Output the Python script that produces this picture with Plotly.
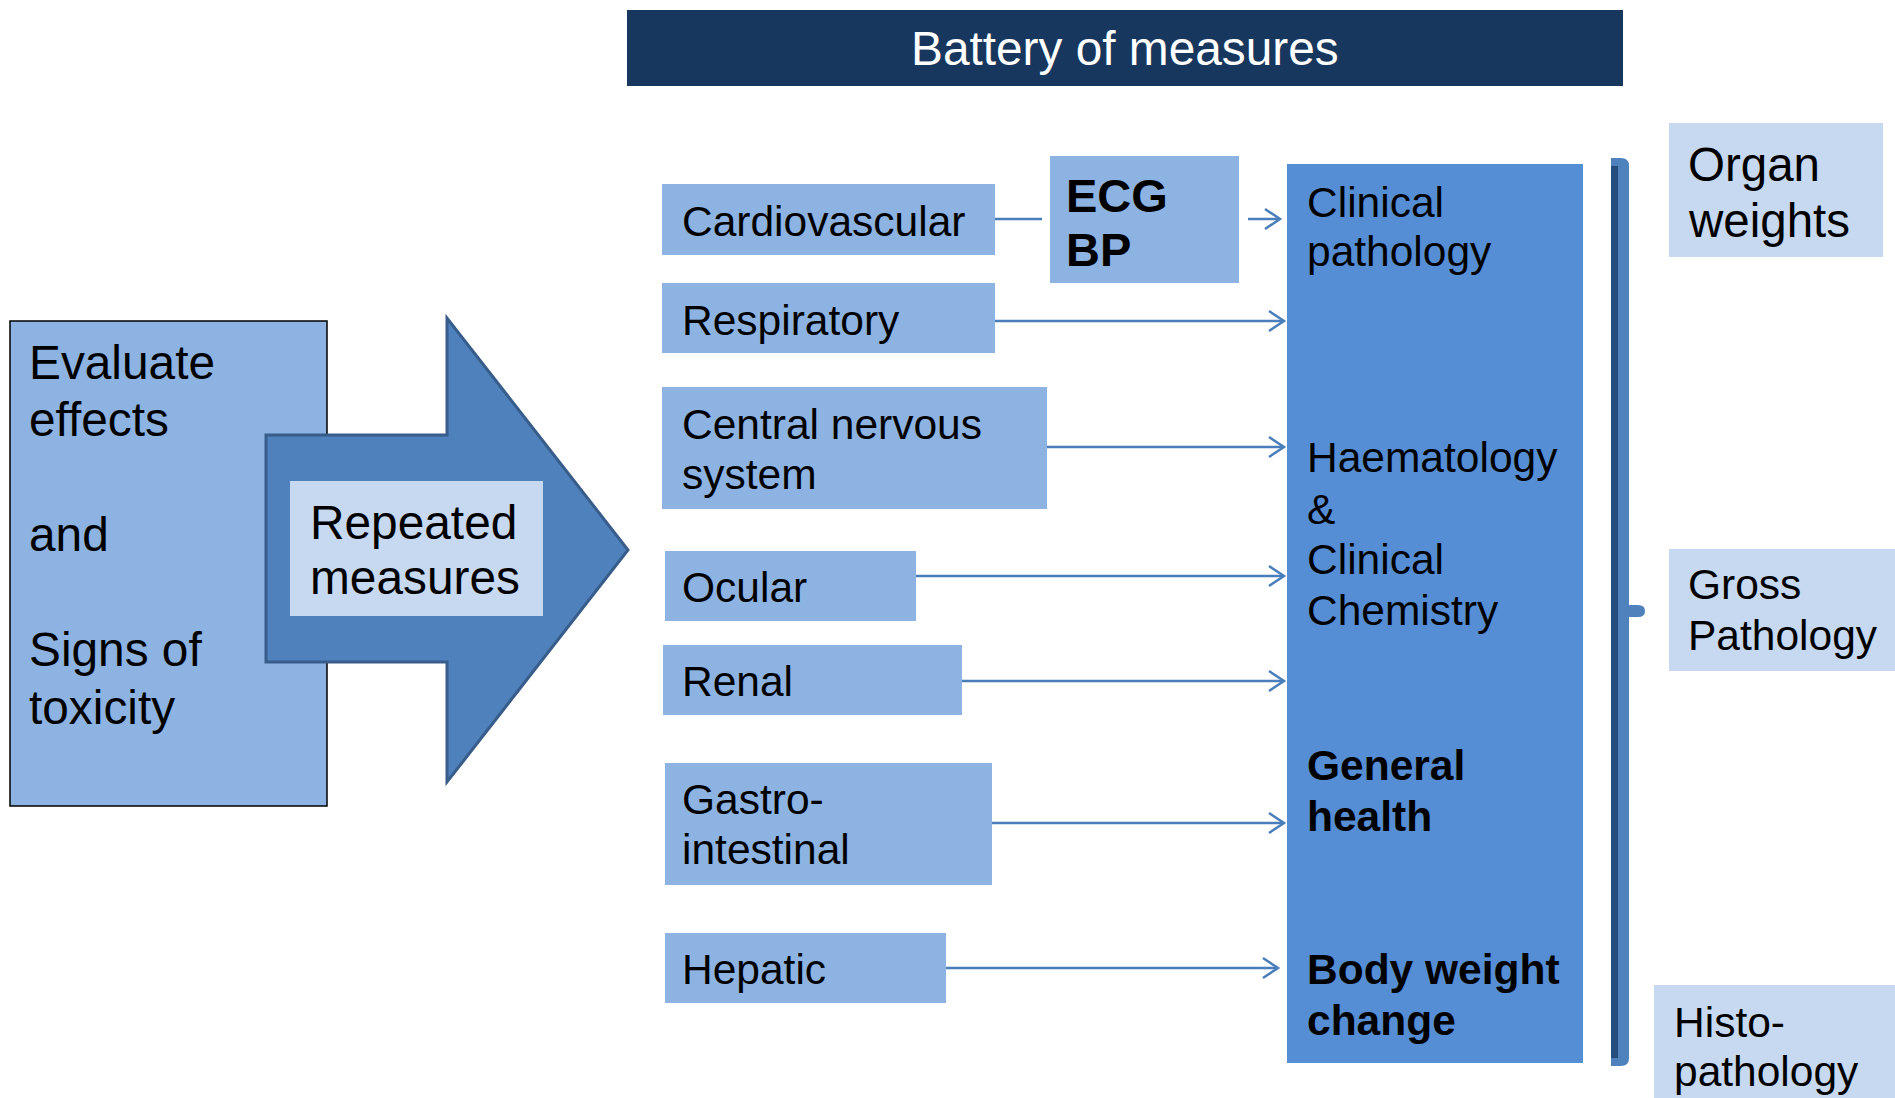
import plotly.graph_objects as go

# ---------------- content (text) ----------------
title_text = "Battery of measures"
left_lines = ["Evaluate", "effects", "", "and", "", "Signs of", "toxicity"]
arrow_lines = ["Repeated", "measures"]
systems = [["Cardiovascular"], ["Respiratory"], ["Central nervous", "system"], ["Ocular"],
           ["Renal"], ["Gastro-", "intestinal"], ["Hepatic"]]
ecg_lines = ["ECG", "BP"]
column_groups = [["Clinical", "pathology"], ["Haematology", "&", "Clinical", "Chemistry"],
                 ["General", "health"], ["Body weight", "change"]]
column_bold = [False, False, True, True]
outcomes = [["Organ", "weights"], ["Gross", "Pathology"], ["Histo-", "pathology"]]

# ---------------- layout geometry (pixels) ----------------
W, H = 1895, 1098
FONT = "Liberation Sans, Arial, sans-serif"
C_TITLE = "#17375E"
C_LIGHT = "#8DB3E2"
C_MID = "#558ED5"
C_PALE = "#C6D9F1"
C_ARROW = "#4F81BD"
C_ARROW_EDGE = "#385D8A"
C_LINK = "#4A7EBB"
DX, DY = -3, -1.5  # annotation padding compensation

title_box = (627, 1623, 10, 86)
left_box = (10, 327, 321, 806)
left_first_base, left_step, left_x, left_size = 380.5, 57.5, 30, 47.8
big_arrow = [(266, 435), (447, 435), (447, 318), (628, 550), (447, 782), (447, 662), (266, 662)]
rep_box = (290, 543, 481, 616)
rep_base = [540.5, 595.5]
rep_x = 311

system_boxes = [(662, 995, 184, 255), (662, 995, 283, 353), (662, 1047, 387, 509),
                (665, 916, 551, 621), (663, 962, 645, 715), (665, 992, 763, 885),
                (665, 946, 933, 1003)]
system_base = [[238], [337], [441, 491], [604], [698], [816, 866], [986]]
system_link_y = [219, 321, 447, 576, 681, 823, 968]
system_link_end = [1042, 1284, 1284, 1284, 1284, 1284, 1278]
system_text_x = 683

ecg_box = (1050, 1239, 156, 283)
ecg_base = [213, 267]
ecg_x = 1067
ecg_link = (1248, 1280, 219)

col_box = (1287, 1583, 164, 1063)
col_base = [[219, 268], [474, 526, 576, 627], [782, 833], [986, 1037]]
col_x = 1308

outcome_boxes = [(1669, 1883, 123, 257), (1669, 1895, 549, 671), (1654, 1895, 985, 1098)]
outcome_base = [[182, 238], [601, 652], [1039, 1088]]
outcome_x = [1689, 1689, 1675]
outcome_size = [47.5, 42.5, 42.5]

TXT = 42.5
BIG = 47.8

shapes = []
annotations = []


def rect(box, fill, line_color=None, line_width=0):
    x0, x1, y0, y1 = box
    shapes.append(dict(type="rect", xref="x", yref="y", x0=x0, x1=x1, y0=y0, y1=y1,
                       fillcolor=fill,
                       line=dict(color=line_color or fill, width=line_width)))


def text(x, baseline, s, size, bold=False, color="black", anchor="left"):
    if not s:
        return
    annotations.append(dict(x=x + (DX if anchor == "left" else 0),
                            y=baseline - 0.3465 * size + DY, xref="x", yref="y",
                            text=f"<b>{s}</b>" if bold else s, showarrow=False,
                            xanchor=anchor, yanchor="middle",
                            font=dict(family=FONT, size=size, color=color)))


def link(x0, x1, y, head=True):
    shapes.append(dict(type="line", xref="x", yref="y", x0=x0, x1=x1, y0=y, y1=y,
                       line=dict(color=C_LINK, width=2.5)))
    if head:
        shapes.append(dict(type="path", xref="x", yref="y",
                           path=f"M {x1-15},{y-10} L {x1},{y} L {x1-15},{y+10}",
                           line=dict(color=C_LINK, width=2.5)))


# title bar
rect(title_box, C_TITLE)
text((title_box[0] + title_box[1]) / 2, 66.5, title_text, BIG, color="white", anchor="center")

# left box
rect(left_box, C_LIGHT, "black", 1.5)
for i, s in enumerate(left_lines):
    text(left_x, left_first_base + i * left_step, s, left_size)

# big arrow
path = "M " + " L ".join(f"{x},{y}" for x, y in big_arrow) + " Z"
shapes.append(dict(type="path", xref="x", yref="y", path=path, fillcolor=C_ARROW,
                   line=dict(color=C_ARROW_EDGE, width=3)))
rect(rep_box, C_PALE)
for s, b in zip(arrow_lines, rep_base):
    text(rep_x, b, s, BIG)

# systems
for lines, box, bases, ly, lend in zip(systems, system_boxes, system_base,
                                        system_link_y, system_link_end):
    rect(box, C_LIGHT)
    for s, b in zip(lines, bases):
        text(system_text_x, b, s, TXT)
    link(box[1], lend, ly, head=(lend > 1100))

# ECG / BP
rect(ecg_box, C_LIGHT)
for s, b in zip(ecg_lines, ecg_base):
    text(ecg_x, b, s, 47, bold=True)
link(ecg_link[0], ecg_link[1], ecg_link[2])

# clinical column
rect(col_box, C_MID)
for lines, bases, bold in zip(column_groups, col_base, column_bold):
    for s, b in zip(lines, bases):
        text(col_x, b, s, TXT, bold=bold)

# bracket
br_path = ("M 1611,158 L 1621,158 Q 1629,158 1629,166 L 1629,605 L 1638,605 "
           "Q 1645,605 1645,611 Q 1645,617 1638,617 L 1629,617 L 1629,1058 "
           "Q 1629,1066 1621,1066 L 1611,1066 Z")
shapes.append(dict(type="path", xref="x", yref="y", path=br_path, fillcolor=C_ARROW,
                   line=dict(width=0)))
rect((1611, 1618, 166, 1058), "#254E80")

# outcomes
for lines, box, bases, x, sz in zip(outcomes, outcome_boxes, outcome_base, outcome_x, outcome_size):
    rect(box, C_PALE)
    for s, b in zip(lines, bases):
        text(x, b, s, sz)

fig = go.Figure()
fig.update_layout(
    width=W, height=H, margin=dict(l=0, r=0, t=0, b=0),
    paper_bgcolor="white", plot_bgcolor="white",
    xaxis=dict(range=[0, W], visible=False, fixedrange=True),
    yaxis=dict(range=[H, 0], visible=False, fixedrange=True),
    shapes=shapes, annotations=annotations, showlegend=False,
)
fig.write_html("out.html", config={"displayModeBar": False},
               post_script="document.body.style.margin='0';document.body.style.overflow='hidden';")
